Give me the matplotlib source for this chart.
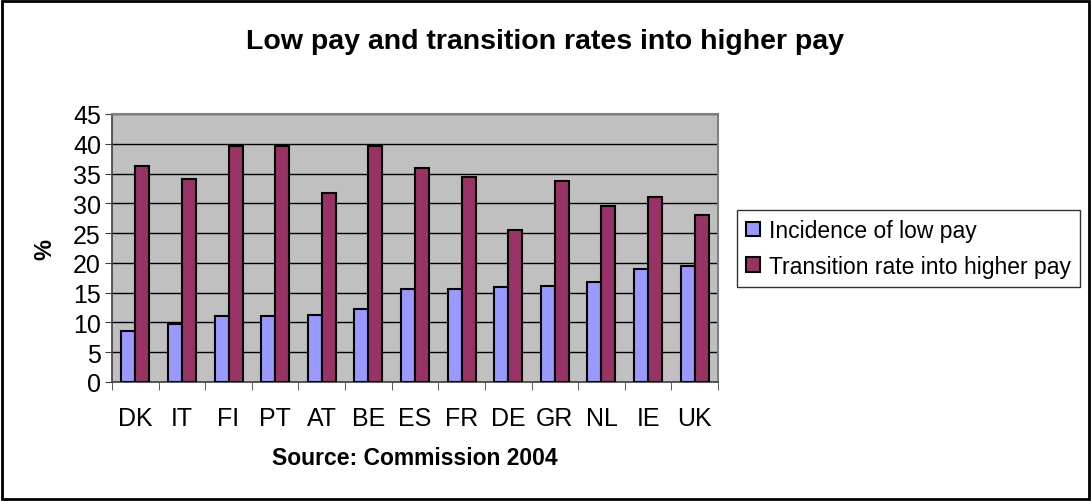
import matplotlib.pyplot as plt
import numpy as np
from matplotlib.patches import Rectangle

countries = ['DK', 'IT', 'FI', 'PT', 'AT', 'BE', 'ES', 'FR', 'DE', 'GR', 'NL', 'IE', 'UK']
low_pay = [8.5, 9.7, 11.0, 11.0, 11.2, 12.2, 15.6, 15.6, 15.9, 16.1, 16.8, 18.9, 19.5]
transition = [36.2, 34.1, 39.6, 39.6, 31.7, 39.6, 36.0, 34.4, 25.6, 33.8, 29.6, 31.0, 28.0]

plt.rcParams['font.family'] = ['Liberation Sans', 'DejaVu Sans']

fig = plt.figure(figsize=(10.91, 5.02), dpi=100)
ax = fig.add_axes([112/1091, 1 - 383/502, (718-112)/1091, (383-115)/502])
ax.set_facecolor('#C0C0C0')

x = np.arange(len(countries))
w = 0.3
ax.bar(x - w/2, low_pay, w, color='#9999FF', edgecolor='black', linewidth=1.5,
       label='Incidence of low pay', zorder=3)
ax.bar(x + w/2, transition, w, color='#993366', edgecolor='black', linewidth=1.5,
       label='Transition rate into higher pay', zorder=3)

ax.set_xlim(-0.5, len(countries) - 0.5)
ax.set_ylim(0, 45)
ax.set_yticks(range(0, 46, 5))
ax.yaxis.grid(True, color='black', linewidth=1, zorder=1)

ax.set_xticks(x)
ax.set_xticklabels(countries, fontsize=18)
ax.tick_params(axis='x', length=0, pad=17)
ax.set_xticks(np.arange(-0.5, len(countries), 1), minor=True)
ax.tick_params(axis='x', which='minor', length=6, direction='out', color='#404040')
ax.tick_params(axis='y', labelsize=18, length=5, color='#404040', pad=3)

for s in ['top', 'right']:
    ax.spines[s].set_color('#808080')
    ax.spines[s].set_linewidth(1.5)
for s in ['left', 'bottom']:
    ax.spines[s].set_color('#404040')
    ax.spines[s].set_linewidth(1.2)

ax.set_ylabel('%', fontsize=17, fontweight='bold', labelpad=12)
ax.set_xlabel('Source: Commission 2004', fontsize=16.5, fontweight='bold', labelpad=12)

fig.suptitle('Low pay and transition rates into higher pay', fontsize=20.5,
             fontweight='bold', x=0.5, y=1 - 42/502, va='center')

leg = ax.legend(loc='upper left', bbox_to_anchor=(737/1091, 1 - 211/502),
                bbox_transform=fig.transFigure, fontsize=16.5, frameon=True,
                fancybox=False, edgecolor='black', handlelength=0.6,
                handleheight=0.6, handletextpad=0.4, borderpad=0.4,
                labelspacing=0.55, borderaxespad=0)
leg.get_frame().set_linewidth(1)

fig.patches.append(Rectangle((0.002, 0.003), 0.996, 0.994, transform=fig.transFigure,
                             fill=False, edgecolor='black', linewidth=2))

fig.savefig('out.png', dpi=100)
